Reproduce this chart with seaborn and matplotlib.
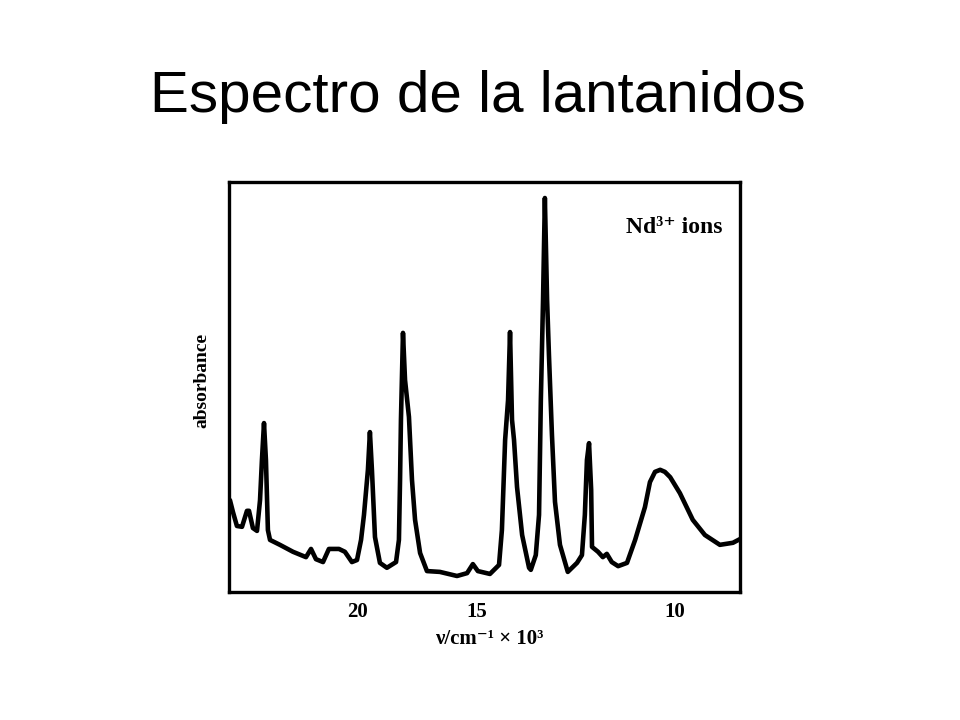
import numpy as np
import pandas as pd
import seaborn as sns
import matplotlib
matplotlib.use("Agg")
import matplotlib.pyplot as plt

# Nd3+ absorption spectrum
# wavenumber in 10^3 cm^-1, absorbance in arbitrary units (0..1 of the frame)
wavenumber = [28.84, 28.57, 28.22, 27.78, 27.36, 27.19, 26.87, 26.54, 26.30, 26.15,
              25.99, 25.84, 25.69, 25.53, 24.80, 23.88, 23.02, 22.70, 22.39, 21.96,
              21.61, 21.03, 20.70, 20.32, 20.05, 19.84, 19.69, 19.49, 19.39, 19.29,
              19.14, 18.90, 18.57, 18.15, 18.02, 17.97, 17.93, 17.84, 17.75, 17.58,
              17.45, 17.32, 17.11, 16.83, 16.32, 15.68, 15.32, 15.12, 14.95, 14.55,
              14.26, 14.17, 14.07, 13.98, 13.92, 13.86, 13.80, 13.71, 13.56, 13.36,
              13.31, 13.17, 13.08, 13.03, 12.97, 12.92, 12.86, 12.81, 12.73, 12.65,
              12.52, 12.32, 12.09, 11.97, 11.90, 11.85, 11.80, 11.75, 11.73, 11.59,
              11.48, 11.39, 11.28, 11.14, 10.95, 10.78, 10.58, 10.48, 10.38, 10.28,
              10.19, 10.09, 9.91, 9.68, 9.47, 9.22, 9.01, 8.90]
absorbance = [0.224, 0.195, 0.161, 0.159, 0.198, 0.198, 0.156, 0.149, 0.224, 0.322,
              0.412, 0.322, 0.151, 0.127, 0.115, 0.098, 0.085, 0.105, 0.080, 0.073,
              0.105, 0.105, 0.098, 0.073, 0.078, 0.127, 0.188, 0.298, 0.390, 0.298,
              0.134, 0.071, 0.059, 0.073, 0.127, 0.273, 0.420, 0.632, 0.517, 0.427,
              0.273, 0.176, 0.095, 0.051, 0.049, 0.039, 0.046, 0.068, 0.051, 0.044,
              0.066, 0.151, 0.371, 0.468, 0.634, 0.420, 0.371, 0.256, 0.139, 0.059,
              0.054, 0.090, 0.188, 0.468, 0.712, 0.961, 0.712, 0.578, 0.383, 0.220,
              0.115, 0.049, 0.071, 0.090, 0.188, 0.322, 0.363, 0.249, 0.110, 0.098,
              0.085, 0.093, 0.073, 0.063, 0.071, 0.127, 0.207, 0.268, 0.293, 0.298,
              0.293, 0.280, 0.241, 0.176, 0.139, 0.115, 0.120, 0.129]
tick_values = [20, 15, 10]

df = pd.DataFrame({"wn": wavenumber, "A": absorbance})

sns.set_theme(style="white")
plt.rcParams["font.family"] = ["Liberation Serif", "DejaVu Serif"]
plt.rcParams["text.color"] = "black"
plt.rcParams["axes.labelcolor"] = "black"

fig = plt.figure(figsize=(9.6, 7.2), dpi=100)
ax = fig.add_axes([0.2385, 0.1778, 0.5323, 0.5694])

sns.lineplot(data=df, x="wn", y="A", color="black", linewidth=3.3, sort=False, ax=ax)


# the original x axis is compressed towards high wavenumbers
def fwd(x):
    return -1.0 / np.sqrt(np.clip(x, 1e-6, None))


def inv(y):
    return 1.0 / np.clip(y, None, -1e-6) ** 2


ax.set_xscale("function", functions=(fwd, inv))
ax.set_xlim(28.93, 8.90)
ax.set_ylim(0, 1)

ax.set_xticks(tick_values)
ax.set_xticklabels([str(t) for t in tick_values], fontweight="bold", fontsize=15)
ax.minorticks_off()
ax.set_yticks([])
ax.tick_params(axis="x", direction="inout", length=9, width=1.5, pad=3, colors="black")

for s in ax.spines.values():
    s.set_color("black")
    s.set_linewidth(2.4)

ax.set_xlabel("ν/cm⁻¹ × 10³", fontweight="bold", fontsize=15)
ax.xaxis.set_label_coords(0.51, -0.09)
ax.set_ylabel("absorbance", fontweight="bold", fontsize=14)
ax.yaxis.set_label_coords(-0.037, 0.515)

ax.text(0.965, 0.888, "Nd³⁺ ions", transform=ax.transAxes, ha="right", va="center",
        fontweight="bold", fontsize=17)

fig.text(0.498, 0.865, "Espectro de la lantanidos", ha="center", va="center",
         fontsize=42, color="black", family=["Liberation Sans", "DejaVu Sans"])

fig.savefig("out.png", dpi=100, facecolor="white")
